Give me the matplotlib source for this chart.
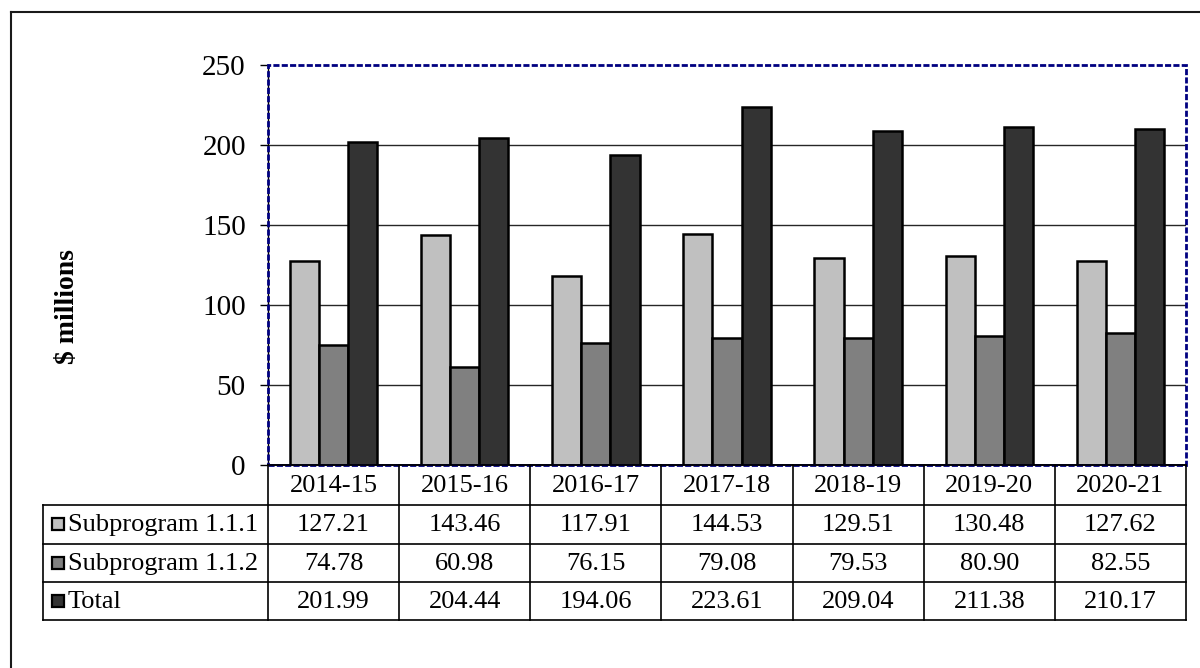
import matplotlib
matplotlib.use("Agg")
import matplotlib.pyplot as plt
from matplotlib.patches import Rectangle
import numpy as np

# Chart data
years = ["2014-15", "2015-16", "2016-17", "2017-18", "2018-19", "2019-20", "2020-21"]
sub_111 = [127.21, 143.46, 117.91, 144.53, 129.51, 130.48, 127.62]
sub_112 = [74.78, 60.98, 76.15, 79.08, 79.53, 80.90, 82.55]
total = [201.99, 204.44, 194.06, 223.61, 209.04, 211.38, 210.17]
series_names = ["Subprogram 1.1.1", "Subprogram 1.1.2", "Total"]
y_ticks = [0, 50, 100, 150, 200, 250]
y_label = "$ millions"

series = [sub_111, sub_112, total]
colors = ["#c0c0c0", "#808080", "#333333"]

plt.rcParams["font.family"] = ["Liberation Serif", "DejaVu Serif"]

W, H = 1200, 668
fig = plt.figure(figsize=(W / 100, H / 100), dpi=100)

# Plot area (pixel box)
PL, PR, PT, PB = 268, 1186, 65, 465
ax = fig.add_axes([PL / W, 1 - PB / H, (PR - PL) / W, (PB - PT) / H])

n = len(years)
x = np.arange(n)
w = 1 / 4.5  # three bars + 150% gap
for k, (vals, c) in enumerate(zip(series, colors)):
    ax.bar(x + (k - 1) * w, vals, width=w, color=c, edgecolor="black",
           linewidth=1.8, zorder=3)

ax.set_xlim(-0.5, n - 0.5)
ax.set_ylim(y_ticks[0], y_ticks[-1])
ax.set_yticks(y_ticks)
ax.set_xticks([])
ax.yaxis.grid(True, color="#262626", linewidth=1.0)
ax.get_ygridlines()[-1].set_visible(False)
ax.set_axisbelow(True)
ax.tick_params(axis="y", direction="out", length=6, width=1.0, pad=10,
               labelsize=21, color="black")
for s in ("top", "right"):
    ax.spines[s].set_visible(False)
ax.spines["left"].set_linewidth(1.0)
ax.spines["bottom"].set_linewidth(1.2)

# Dashed plot-area border
ax.add_patch(Rectangle((0, 0), 1, 1, transform=ax.transAxes, fill=False,
                       edgecolor="#000080", linewidth=2.0,
                       linestyle=(0, (2.2, 0.8)), clip_on=False, zorder=6))

# Overlay in pixel coordinates for the data table, label and frame
ov = fig.add_axes([0, 0, 1, 1])
ov.set_xlim(0, W)
ov.set_ylim(H, 0)
ov.axis("off")
ov.patch.set_visible(False)

lc = "black"
lw = 1.2
TL = 43
rows_y = [465, 505, 543.5, 582, 620]
col_w = (PR - PL) / n
col_x = [PL + i * col_w for i in range(n + 1)]

# Horizontal table lines
ov.plot([PL, PR], [rows_y[0], rows_y[0]], color=lc, lw=lw)
for yy in rows_y[1:]:
    ov.plot([TL, PR], [yy, yy], color=lc, lw=lw)
# Vertical table lines
for xx in col_x:
    ov.plot([xx, xx], [rows_y[0], rows_y[-1]], color=lc, lw=lw)
ov.plot([TL, TL], [rows_y[1], rows_y[-1]], color=lc, lw=lw)

fs = 19
# Header row
for i, yr in enumerate(years):
    ov.text((col_x[i] + col_x[i + 1]) / 2, (rows_y[0] + rows_y[1]) / 2 + 1,
            yr, ha="center", va="center", fontsize=fs)
# Data rows with legend keys
for r, (name, vals, c) in enumerate(zip(series_names, series, colors)):
    yc = (rows_y[r + 1] + rows_y[r + 2]) / 2
    ov.add_patch(Rectangle((52, yc - 6), 12, 12, facecolor=c,
                           edgecolor="black", linewidth=1.6, zorder=4))
    ov.text(68, yc + 1, name, ha="left", va="center", fontsize=fs)
    for i, v in enumerate(vals):
        ov.text((col_x[i] + col_x[i + 1]) / 2, yc + 1, f"{v:.2f}",
                ha="center", va="center", fontsize=fs)

# Axis title
ov.text(68, 307, y_label, rotation=90, ha="center", va="center",
        fontsize=20, fontweight="bold")

# Chart frame
ov.plot([11, 11], [H + 5, 12], color="#1a1a1a", lw=1.5, clip_on=False)
ov.plot([11, W + 5], [12, 12], color="#1a1a1a", lw=1.5, clip_on=False)

fig.savefig("out.png", dpi=100)
